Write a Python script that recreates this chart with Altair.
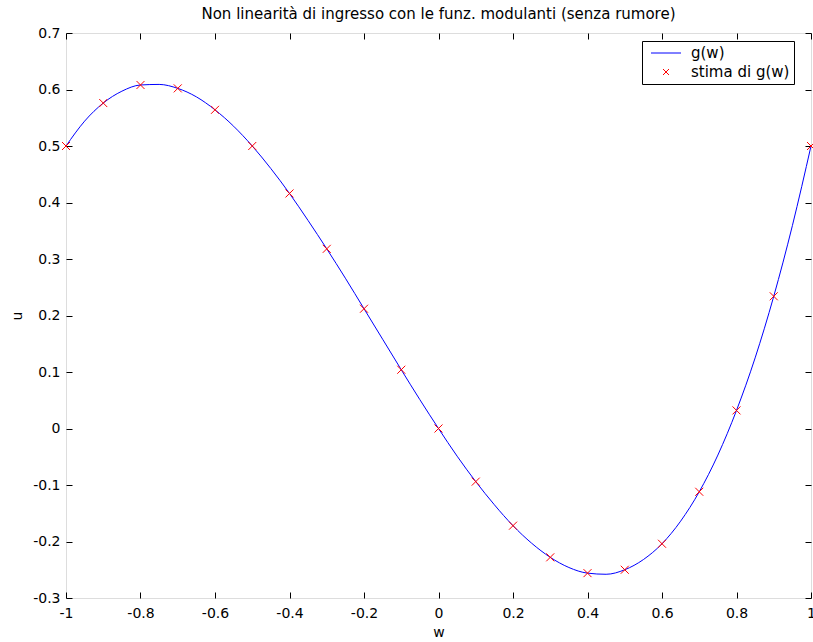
import altair as alt
import pandas as pd

# curve g(w)
w_line = [-1.0, -0.95, -0.9, -0.85, -0.8, -0.75, -0.7, -0.65, -0.6, -0.55, -0.5,
          -0.45, -0.4, -0.35, -0.3, -0.25, -0.2, -0.15, -0.1, -0.05, 0.0,
          0.05, 0.1, 0.15, 0.2, 0.25, 0.3, 0.35, 0.4, 0.45, 0.5,
          0.55, 0.6, 0.65, 0.7, 0.75, 0.8, 0.85, 0.9, 0.95, 1.0]
g_line = [0.5, 0.544, 0.576, 0.597, 0.608, 0.609, 0.602, 0.587, 0.564, 0.535, 0.5,
          0.46, 0.416, 0.368, 0.318, 0.266, 0.212, 0.158, 0.104, 0.051, 0.0,
          -0.049, -0.094, -0.135, -0.172, -0.203, -0.228, -0.246, -0.256, -0.258, -0.25,
          -0.232, -0.204, -0.164, -0.112, -0.047, 0.032, 0.125, 0.234, 0.359, 0.5]

# estimated points (red crosses)
w_est = [-1.0, -0.9, -0.8, -0.7, -0.6, -0.5, -0.4, -0.3, -0.2, -0.1, 0.0,
         0.1, 0.2, 0.3, 0.4, 0.5, 0.6, 0.7, 0.8, 0.9, 1.0]
g_est = [0.5, 0.576, 0.608, 0.602, 0.564, 0.5, 0.416, 0.318, 0.212, 0.104, 0.0,
         -0.094, -0.172, -0.228, -0.256, -0.25, -0.204, -0.112, 0.032, 0.234, 0.5]

series = ["g(w)", "stima di g(w)"]
colors = ["#0000ff", "#ff0000"]
x_ticks = [-1, -0.8, -0.6, -0.4, -0.2, 0, 0.2, 0.4, 0.6, 0.8, 1]
y_ticks = [-0.3, -0.2, -0.1, 0, 0.1, 0.2, 0.3, 0.4, 0.5, 0.6, 0.7]

line_df = pd.DataFrame({"w": w_line, "u": g_line})
est_df = pd.DataFrame({"w": w_est, "u": g_est, "serie": series[1]})

FONT = "DejaVu Sans"
FS = 14
xs = alt.Scale(domain=[-1, 1], nice=False, zero=False)
ys = alt.Scale(domain=[-0.3, 0.7], nice=False, zero=False)

common = dict(domain=False, grid=False, tickColor="black", tickSize=6, offset=-6,
              tickWidth=1, labelFont=FONT, labelFontSize=FS, labelColor="black",
              titleFont=FONT, titleFontSize=FS, titleFontWeight="normal",
              titleColor="black", labelExpr="'' + datum.value")

x_axis = alt.Axis(values=x_ticks, title="w", labelPadding=8, labelFlush=False,
                  labelOverlap=False, titlePadding=5, **common)
y_axis = alt.Axis(values=y_ticks, title="u", labelPadding=6, labelFlush=False,
                  labelOverlap=False, titlePadding=8, **common)
x_top = alt.Axis(values=x_ticks, title=None, labels=False, orient="top",
                 domain=False, grid=False, tickColor="black", tickSize=6, offset=-6)
y_right = alt.Axis(values=y_ticks, title=None, labels=False, orient="right",
                   domain=False, grid=False, tickColor="black", tickSize=6, offset=-6)

shape_scale = alt.Scale(domain=series, range=["M-2,0L2,0", "M-0.4,-0.4L0.4,0.4M-0.4,0.4L0.4,-0.4"])
legend = alt.Legend(title=None, orient="none", legendX=576, legendY=8,
                    fillColor="white", strokeColor="black", padding=4,
                    labelFont=FONT, labelFontSize=FS + 1, labelColor="black",
                    labelExpr="datum.label + '\u00a0\u00a0'",
                    symbolSize=225, symbolStrokeWidth=1, symbolOffset=12,
                    labelOffset=17, rowPadding=3,
                    symbolStrokeColor={"expr": "datum.value == 'g(w)' ? '#0000ff' : '#ff0000'"})

line = alt.Chart(line_df).mark_line(strokeWidth=1, interpolate="monotone", color=colors[0]).encode(
    x=alt.X("w:Q", scale=xs, axis=x_axis),
    y=alt.Y("u:Q", scale=ys, axis=y_axis),
)
pts = alt.Chart(est_df).mark_point(filled=False, strokeWidth=1, size=400, opacity=1,
                                   color=colors[1]).encode(
    x=alt.X("w:Q", scale=xs, axis=None),
    y=alt.Y("u:Q", scale=ys, axis=None),
    shape=alt.Shape("serie:N", scale=shape_scale, legend=legend),
)
frame = alt.Chart(est_df).mark_point(opacity=0).encode(
    x=alt.X("w:Q", scale=xs, axis=x_top),
    y=alt.Y("u:Q", scale=ys, axis=y_right),
)

chart = alt.layer(line, pts, frame).resolve_axis(
    x="independent", y="independent"
).properties(
    width=745, height=565,
    title=alt.TitleParams("Non linearità di ingresso con le funz. modulanti (senza rumore)",
                          font=FONT, fontSize=15, fontWeight="normal", color="black",
                          anchor="middle", offset=4),
    autosize=alt.AutoSizeParams(type="none"),
    padding={"left": 66, "top": 33, "right": 2, "bottom": 44},
).configure_view(stroke="black", strokeWidth=1).configure(background="white")

chart.save("out.html", embed_options={"renderer": "svg", "actions": False})
